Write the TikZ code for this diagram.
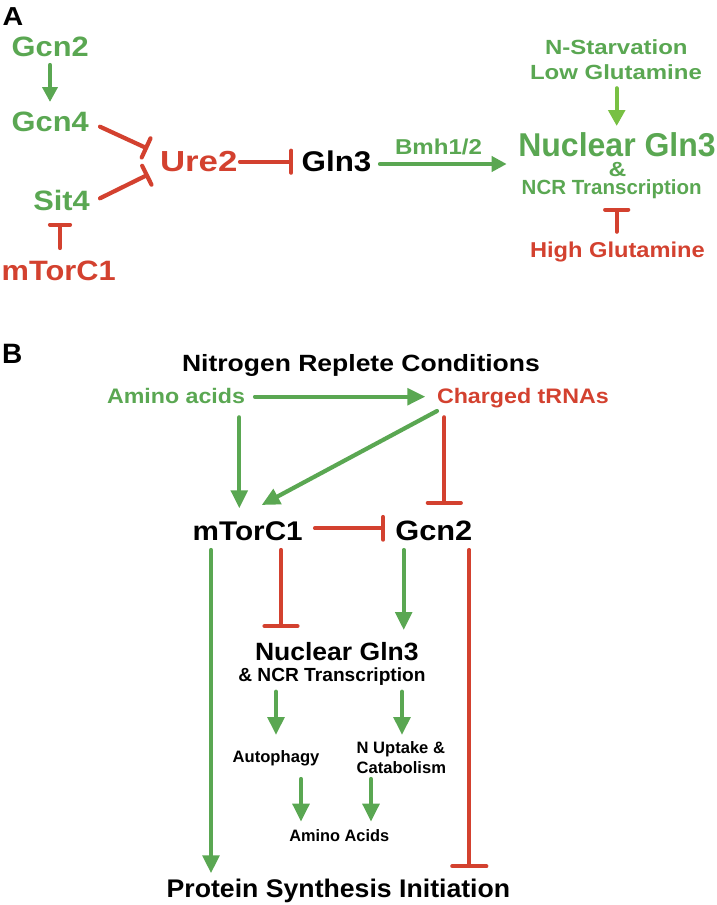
\documentclass[tikz,border=0pt]{standalone}
\usepackage{fontspec}
\setmainfont{Liberation Sans}
\usepackage{graphicx}
\usetikzlibrary{arrows.meta,calc}
\definecolor{gr}{HTML}{5AA752}
\definecolor{lg}{HTML}{78C043}
\definecolor{rd}{HTML}{D3412F}
\newcommand\tx[3]{\fontsize{#1}{#1}\selectfont\scalebox{#2}[1]{#3}}
\tikzset{
  lbl/.style={inner sep=0pt, outer sep=0pt, anchor=base west, font=\bfseries},
  act/.style={draw=gr, line width=4.2pt, line cap=round, -{Triangle[length=18pt,width=16.5pt]}},
  actsm/.style={draw=gr, line width=4.2pt, line cap=round, -{Triangle[length=15pt,width=15pt]}},
  actl/.style={draw=lg, line width=4.2pt, line cap=round, -{Triangle[length=16pt,width=16.5pt]}},
  inh/.style={draw=rd, line width=4.2pt, line cap=round, -{Bar[width=#1, round]}},
}
\begin{document}
\begin{tikzpicture}[x=1pt, y=-1pt]
\useasboundingbox (0,0) rectangle (717,905);
% ---------- Panel A ----------
\node[lbl, text=black] (Alab) at (2.7,25) {\tx{26}{1.1}{A}};
\node[lbl, text=gr] (gcnAtwo) at (11.7,56) {\tx{28}{1.1}{Gcn2}};
\node[lbl, text=gr] (gcnAfour) at (11.7,131) {\tx{28}{1.1}{Gcn4}};
\node[lbl, text=gr] (sitA) at (33.3,210.7) {\tx{28}{1.1}{Sit4}};
\node[lbl, text=rd] (torA) at (1.7,280) {\tx{28}{1.1}{mTorC1}};
\node[lbl, text=rd] (ure) at (160,171.7) {\tx{29}{1.2}{Ure2}};
\node[lbl, text=black] (glnA) at (301.7,171.7) {\tx{28.5}{1.1}{Gln3}};
\node[lbl, text=gr] (bmh) at (395,154) {\tx{21.5}{1.12}{Bmh1/2}};
\node[lbl, text=gr] (nstar) at (545,54.3) {\tx{20.5}{1.17}{N-Starvation}};
\node[lbl, text=gr] (lowg) at (530,79) {\tx{20.5}{1.17}{Low Glutamine}};
\node[lbl, text=gr] (nucA) at (518.3,156.7) {\tx{33}{0.97}{Nuclear Gln3}};
\node[lbl, text=gr] (ampA) at (608.5,176) {\tx{20.5}{1.2}{\&}};
\node[lbl, text=gr] (ncrA) at (521.7,194.3) {\tx{20.5}{1.0}{NCR Transcription}};
\node[lbl, text=rd] (highg) at (530,257.3) {\tx{21.5}{1.1}{High Glutamine}};

\draw[actsm] ($(gcnAtwo.base west)+(38.3,9)$) -- ($(gcnAfour.base west)+(38.3,-29)$);
\draw[inh=21pt] ($(gcnAfour.base west)+(88.3,-4.3)$) -- ($(ure.base west)+(-12,-22.9)$);
\draw[inh=21pt] ($(sitA.base west)+(66.7,-12.4)$) -- ($(ure.base west)+(-11.3,2.6)$);
\draw[inh=20pt] ($(torA.base west)+(58.3,-32)$) -- ($(sitA.base west)+(26.7,11.8)$);
\draw[inh=22pt] ($(ure.base west)+(80,-10)$) -- ($(glnA.base west)+(-8.4,-10)$);
\draw[actsm] ($(glnA.base west)+(78.3,-7.7)$) -- ($(nucA.base west)+(-11.6,7.3)$);
\draw[actl] ($(lowg.base west)+(86.7,9.3)$) -- ($(nucA.base west)+(98.4,-30.7)$);
\draw[inh=23pt] ($(highg.base west)+(86.7,-25.6)$) -- ($(ncrA.base west)+(95,13.2)$);

% ---------- Panel B ----------
\node[lbl, text=black] (Blab) at (2,363.3) {\tx{28}{1.0}{B}};
\node[lbl, text=black] (nit) at (182,371.7) {\tx{23.5}{1.128}{Nitrogen Replete Conditions}};
\node[lbl, text=gr] (aa) at (107,403.3) {\tx{21}{1.105}{Amino acids}};
\node[lbl, text=rd] (ct) at (437,403.3) {\tx{21}{1.107}{Charged tRNAs}};
\node[lbl, text=black] (torB) at (192.7,540) {\tx{27}{1.1}{mTorC1}};
\node[lbl, text=black] (gcnB) at (395.3,540) {\tx{28}{1.1}{Gcn2}};
\node[lbl, text=black] (nucB) at (255,660) {\tx{25}{1.061}{Nuclear Gln3}};
\node[lbl, text=black] (ncrB) at (238.3,681.7) {\tx{19}{1.008}{\& NCR Transcription}};
\node[lbl, text=black] (auto) at (232.7,762.3) {\tx{16.5}{1.006}{Autophagy}};
\node[lbl, text=black] (nup) at (356.7,753.3) {\tx{16.5}{1.003}{N Uptake \&}};
\node[lbl, text=black] (cat) at (356.7,773.3) {\tx{16.5}{1.004}{Catabolism}};
\node[lbl, text=black] (aatwo) at (289.3,841.7) {\tx{16.5}{0.99}{Amino Acids}};
\node[lbl, text=black] (psi) at (166.7,897.7) {\tx{25.5}{1.045}{Protein Synthesis Initiation}};

\draw[act] ($(aa.base west)+(148,-6.6)$) -- ($(ct.base west)+(-11.7,-6.6)$);
\draw[act] ($(aa.base west)+(132.3,14)$) -- ($(torB.base west)+(46.6,-31.7)$);
\draw[act] ($(ct.base west)+(0,7.7)$) -- ($(torB.base west)+(69,-35)$);
\draw[inh=33pt] ($(ct.base west)+(7.3,14)$) -- ($(gcnB.base west)+(49,-35)$);
\draw[inh=22.6pt] ($(torB.base west)+(122.3,-11.7)$) -- ($(gcnB.base west)+(-10,-11.7)$);
\draw[act] ($(torB.base west)+(18.3,10)$) -- ($(psi.base west)+(44.3,-24.4)$);
\draw[inh=33pt] ($(torB.base west)+(88.3,10)$) -- ($(nucB.base west)+(26,-31.7)$);
\draw[act] ($(gcnB.base west)+(8.4,10)$) -- ($(nucB.base west)+(148.7,-30)$);
\draw[inh=34pt] ($(gcnB.base west)+(74,10)$) -- ($(psi.base west)+(302.6,-29.4)$);
\draw[act] ($(ncrB.base west)+(37.7,10)$) -- ($(auto.base west)+(43.3,-27.3)$);
\draw[act] ($(ncrB.base west)+(163.7,10)$) -- ($(nup.base west)+(45.3,-18.3)$);
\draw[act] ($(auto.base west)+(68.3,16.7)$) -- ($(aatwo.base west)+(11.7,-20)$);
\draw[act] ($(cat.base west)+(14.3,5.7)$) -- ($(aatwo.base west)+(81.7,-20)$);
\end{tikzpicture}
\end{document}
